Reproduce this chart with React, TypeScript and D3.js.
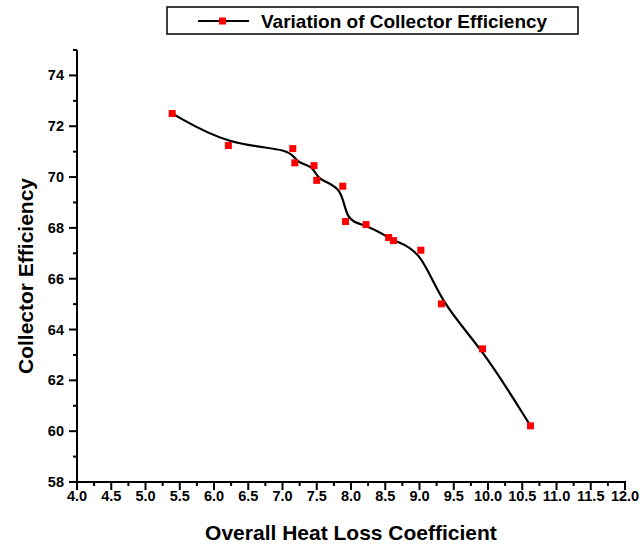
import React from "react";
import * as d3 from "d3";

const heatLoss = [5.39, 6.21, 7.15, 7.18, 7.46, 7.5, 7.88, 7.92, 8.22, 8.55, 8.62, 9.02, 9.32, 9.92, 10.62];
const efficiency = [72.5, 71.24, 71.12, 70.56, 70.45, 69.87, 69.64, 68.25, 68.13, 67.62, 67.5, 67.12, 65.01, 63.24, 60.21];
const xTicks = d3.range(4, 12.001, 0.5);
const yTicks = d3.range(58, 74.001, 2);
const seriesName = "Variation of Collector Efficiency";
const xTitle = "Overall Heat Loss Coefficient";
const yTitle = "Collector Efficiency";

const W = 640, H = 547;
const left = 77, right = 625, top = 50, bottom = 482;
const font = "'Liberation Sans', Arial, sans-serif";

export default function App() {
  const x = d3.scaleLinear().domain([4, 12]).range([left, right]);
  const y = d3.scaleLinear().domain([58, 75]).range([bottom, top]);
  const pts: [number, number][] = heatLoss.map((v, i) => [v, efficiency[i]]);
  const line = d3.line<[number, number]>().x(d => x(d[0])).y(d => y(d[1])).curve(d3.curveBasis);
  const xMinor = d3.range(4.25, 12, 0.5);
  const yMinor = d3.range(59, 75.001, 2);
  return (
    <svg width={W} height={H} style={{ position: "absolute", left: 0, top: 0, background: "#fff" }}>
      <rect x={0} y={0} width={W} height={H} fill="#fff" />
      {/* axes */}
      <line x1={left} x2={left} y1={top} y2={bottom} stroke="#000" strokeWidth={2} />
      <line x1={left} x2={right + 1} y1={bottom} y2={bottom} stroke="#000" strokeWidth={2} />
      {xTicks.map(t => (
        <g key={"xt" + t}>
          <line x1={x(t)} x2={x(t)} y1={bottom} y2={bottom + 8} stroke="#000" strokeWidth={2} />
          <text x={x(t)} y={bottom + 19} textAnchor="middle" fontFamily={font} fontWeight="bold" fontSize={14.5}>{t.toFixed(1)}</text>
        </g>
      ))}
      {xMinor.map(t => (
        <line key={"xm" + t} x1={x(t)} x2={x(t)} y1={bottom} y2={bottom + 4} stroke="#000" strokeWidth={2} />
      ))}
      {yTicks.map(t => (
        <g key={"yt" + t}>
          <line x1={left - 8} x2={left} y1={y(t)} y2={y(t)} stroke="#000" strokeWidth={2} />
          <text x={left - 13} y={y(t) + 5} textAnchor="end" fontFamily={font} fontWeight="bold" fontSize={14.5}>{t}</text>
        </g>
      ))}
      {yMinor.map(t => (
        <line key={"ym" + t} x1={left - 4} x2={left} y1={y(t)} y2={y(t)} stroke="#000" strokeWidth={2} />
      ))}
      {/* titles */}
      <text x={(left + right) / 2} y={540} textAnchor="middle" fontFamily={font} fontWeight="bold" fontSize={21}>{xTitle}</text>
      <text transform={`translate(33,276) rotate(-90)`} textAnchor="middle" fontFamily={font} fontWeight="bold" fontSize={21}>{yTitle}</text>
      {/* series */}
      <path d={line(pts) || ""} fill="none" stroke="#000" strokeWidth={2.2} />
      {pts.map((p, i) => (
        <rect key={"p" + i} x={x(p[0]) - 3.5} y={y(p[1]) - 3.5} width={7} height={7} fill="#ff0000" />
      ))}
      {/* legend */}
      <rect x={167} y={7} width={411} height={27} fill="#fff" stroke="#000" strokeWidth={1.5} />
      <line x1={198} x2={249} y1={21} y2={21} stroke="#000" strokeWidth={2} />
      <rect x={219} y={17.5} width={7} height={7} fill="#ff0000" />
      <text x={261} y={28} fontFamily={font} fontWeight="bold" fontSize={19}>{seriesName}</text>
    </svg>
  );
}
